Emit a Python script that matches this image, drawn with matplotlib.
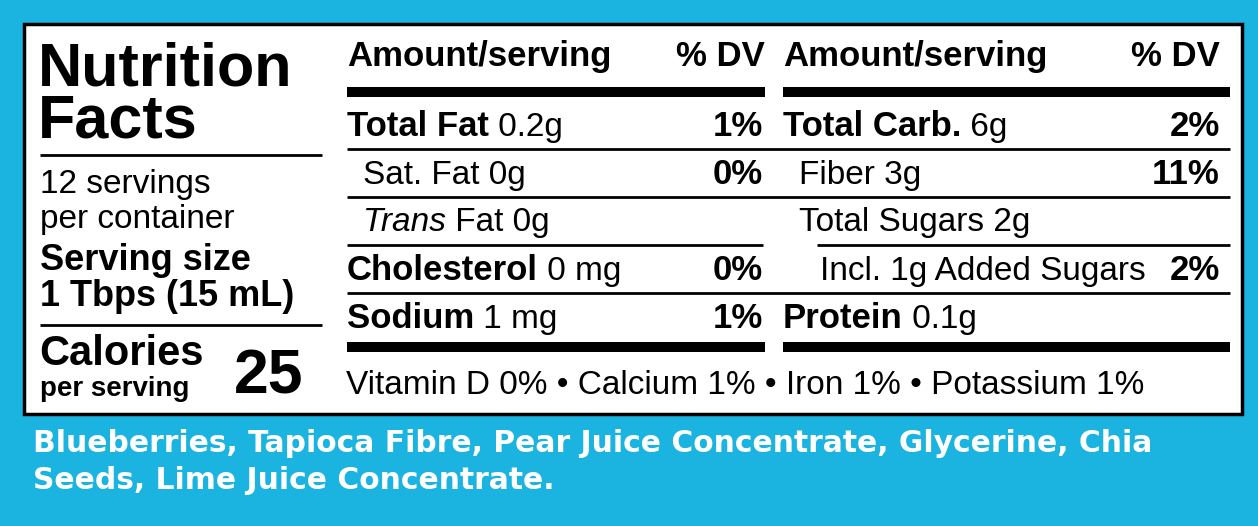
import matplotlib.pyplot as plt
from matplotlib.patches import Rectangle

BLUE = "#1bb4e0"
SANS = ["Liberation Sans", "DejaVu Sans"]

# label content
TITLE_LINES = ["Nutrition", "Facts"]
SERVINGS_LINES = ["12 servings", "per container"]
SERVING_SIZE_LINES = ["Serving size", "1 Tbps (15 mL)"]
CALORIES = "25"

LEFT_ROWS = [
    # (bold part, regular part, %DV, indent, italic prefix)
    ("Total Fat", " 0.2g", "1%", 0, ""),
    ("", "Sat. Fat 0g", "0%", 16, ""),
    ("", " Fat 0g", "", 16, "Trans"),
    ("Cholesterol", " 0 mg", "0%", 0, ""),
    ("Sodium", " 1 mg", "1%", 0, ""),
]
RIGHT_ROWS = [
    ("Total Carb.", " 6g", "2%", 0, ""),
    ("", "Fiber 3g", "11%", 16, ""),
    ("", "Total Sugars 2g", "", 16, ""),
    ("", "Incl. 1g Added Sugars", "2%", 37, ""),
    ("Protein", " 0.1g", "", 0, ""),
]
VITAMINS = "Vitamin D 0% \u2022 Calcium 1% \u2022 Iron 1% \u2022 Potassium 1%"
INGREDIENT_LINES = [
    "Blueberries, Tapioca Fibre, Pear Juice Concentrate, Glycerine, Chia",
    "Seeds, Lime Juice Concentrate.",
]

ROW_CENTERS = [125, 173, 220, 269, 317]


def draw_segments(axis, renderer, x, y, segments):
    for text, weight, style, size in segments:
        if not text:
            continue
        t = axis.text(x, y, text, fontsize=size, fontweight=weight, fontstyle=style,
                      family=SANS, va="baseline", ha="left", color="black")
        x += t.get_window_extent(renderer).width


def hline(axis, x0, x1, y, lw):
    axis.plot([x0, x1], [y, y], color="black", lw=lw, solid_capstyle="butt")


def draw_column(axis, renderer, rows, x0, x1):
    for (bold, regular, dv, indent, italic), yc in zip(rows, ROW_CENTERS):
        yb = yc + 11
        draw_segments(axis, renderer, x0 + indent, yb, [
            (bold, "bold", "normal", 25),
            (italic, "normal", "italic", 24),
            (regular, "normal", "normal", 24),
        ])
        if dv:
            axis.text(x1 - 2, yb, dv, fontsize=25, fontweight="bold", family=SANS,
                      ha="right", va="baseline")


def main():
    figure = plt.figure(figsize=(12.58, 5.26), dpi=100, facecolor=BLUE)
    axis = figure.add_axes([0, 0, 1, 1])
    axis.set_xlim(0, 1258)
    axis.set_ylim(526, 0)
    axis.axis("off")
    renderer = figure.canvas.get_renderer()

    axis.add_patch(Rectangle((24, 24), 1218, 390, facecolor="white",
                             edgecolor="black", lw=2.5))

    # left block
    for line, yb in zip(TITLE_LINES, [85, 137]):
        axis.text(38, yb, line, fontsize=44, fontweight="bold", family=SANS, va="baseline")
    hline(axis, 40, 322, 155, 2)
    for line, yb in zip(SERVINGS_LINES, [193, 228]):
        axis.text(40, yb, line, fontsize=24, family=SANS, va="baseline")
    for line, yb in zip(SERVING_SIZE_LINES, [270, 306]):
        axis.text(40, yb, line, fontsize=26, fontweight="bold", family=SANS, va="baseline")
    hline(axis, 40, 322, 325, 2)
    axis.text(39, 365, "Calories", fontsize=30, fontweight="bold", family=SANS, va="baseline")
    axis.text(40, 396, "per serving", fontsize=20, fontweight="bold", family=SANS, va="baseline")
    axis.text(234, 394, CALORIES, fontsize=45, fontweight="bold", family=SANS, va="baseline")

    # headers
    for x0, x1, pad in [(347, 765, 0), (783, 1230, 10)]:
        axis.text(x0, 66, "Amount/serving", fontsize=25, fontweight="bold", family=SANS, va="baseline")
        axis.text(x1 - pad, 66, "% DV", fontsize=25, fontweight="bold", family=SANS,
                  va="baseline", ha="right")
        axis.add_patch(Rectangle((x0, 87), x1 - x0, 10, color="black", lw=0))
        axis.add_patch(Rectangle((x0, 342), x1 - x0, 10, color="black", lw=0))

    # row rules
    hline(axis, 347, 1230, 149, 2)
    hline(axis, 347, 1230, 197, 2)
    hline(axis, 347, 763, 245, 2)
    hline(axis, 817, 1230, 245, 2)
    hline(axis, 347, 1230, 293, 2)

    draw_column(axis, renderer, LEFT_ROWS, 347, 765)
    draw_column(axis, renderer, RIGHT_ROWS, 783, 1222)

    axis.text(346, 394, VITAMINS, fontsize=24, family=SANS, va="baseline")

    for line, yb in zip(INGREDIENT_LINES, [452, 489]):
        axis.text(33, yb, line, fontsize=21.4, fontweight="bold", family="DejaVu Sans",
                  color="white", va="baseline")

    figure.savefig("out.png", dpi=100, facecolor=BLUE)
    plt.close(figure)


if __name__ == "__main__":
    main()
